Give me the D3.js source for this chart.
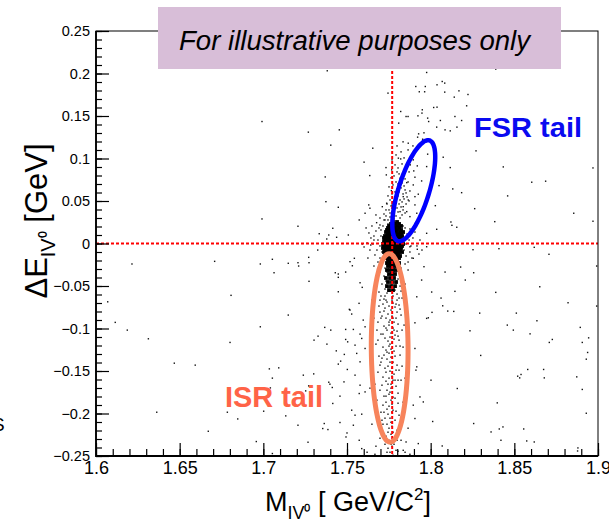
<!DOCTYPE html>
<html>
<head>
<meta charset="utf-8">
<script src="https://cdn.jsdelivr.net/npm/d3@7"></script>
<style>
  body { margin: 0; background: #fff; }
  svg { display: block; }
</style>
</head>
<body>
<svg id="chart" width="609" height="522"></svg>
<script>
// ---- axis ticks ----
const xTicks = [1.6, 1.65, 1.7, 1.75, 1.8, 1.85, 1.9];
const xTickLabels = ["1.6", "1.65", "1.7", "1.75", "1.8", "1.85", "1.9"];
const yTicks = [0.25, 0.2, 0.15, 0.1, 0.05, 0, -0.05, -0.1, -0.15, -0.2, -0.25];
const yTickLabels = ["0.25", "0.2", "0.15", "0.1", "0.05", "0", "\u22120.05", "\u22120.1", "\u22120.15", "\u22120.2", "\u22120.25"];

// reference lines (tau mass, zero energy difference)
const tauMass = 1.777;
const deltaEZero = 0;

// tails drawn as ellipses: centre, end of long axis, short/long ratio
const fsrEllipse = { center: [1.7899, 0.0621], tip: [1.7993, 0.1213], ratio: 0.29 };
const isrEllipse = { center: [1.7755, -0.1229], tip: [1.7752, -0.0120], ratio: 0.195 };

// ---- events [M, dE] ----
const leftEvents = [
  [1.7382,0.2032],[1.6992,0.1435],[1.7269,0.1310],[1.7454,0.1337],[1.7403,0.1157],[1.7370,0.0783],[1.7374,0.0492],[1.7448,0.0426],
  [1.6992,0.0289],[1.7207,0.0203],[1.7415,0.0179],[1.7334,0.0115],[1.7391,0.0100],[1.7438,0.0073],[1.7379,0.0053],
  [1.6215,-0.0241],[1.6709,-0.0210],[1.6982,-0.0241],[1.7054,-0.0186],[1.7064,-0.0344],[1.7149,-0.0233],[1.7207,-0.0226],[1.7211,-0.0265],
  [1.7271,-0.0163],[1.7273,-0.0226],[1.7325,-0.0077],[1.7430,-0.0344],[1.7448,-0.0359],[1.7448,-0.0398],[1.7492,-0.0336],[1.7273,-0.0445],
  [1.7448,-0.0568],[1.6807,-0.0610],[1.6070,-0.0686],[1.7514,-0.0775],[1.7149,-0.0842],[1.6115,-0.0928],[1.6187,-0.1019],[1.6982,-0.0980],
  [1.7367,-0.0987],[1.7403,-0.1019],[1.7492,-0.1011],[1.7327,-0.1090],[1.6313,-0.1121],[1.6801,-0.1164],[1.7303,-0.1137],[1.7492,-0.1129],
  [1.7504,-0.1157],[1.7380,-0.1184],[1.7436,-0.1263],[1.7484,-0.1305],[1.6468,-0.1408],[1.6593,-0.1431],[1.7462,-0.1384],[1.7448,-0.1419],
  [1.7036,-0.1475],[1.7092,-0.1463],[1.7502,-0.1482],[1.7301,-0.1534],[1.7239,-0.1549],[1.7054,-0.1584],[1.7391,-0.1632],[1.7398,-0.1655],
  [1.7482,-0.1628],[1.7042,-0.1699],[1.7271,-0.1675],[1.7253,-0.1734],[1.7412,-0.1694],[1.7458,-0.1796],[1.7415,-0.1882],[1.6363,-0.1985],
  [1.6785,-0.1985],[1.7002,-0.1973],[1.6847,-0.2064],[1.7134,-0.2028],[1.7364,-0.2118],[1.7458,-0.2106],[1.7207,-0.2138],[1.7386,-0.2189],
  [1.7355,-0.2177],[1.6671,-0.2209],[1.7500,-0.2229],[1.7494,-0.2276],[1.6958,-0.2330],[1.7267,-0.2338],[1.7054,-0.2471]
];

const rightEvents = [
  [1.8389,0.2052],[1.8069,0.1906],[1.8084,0.1887],[1.8038,0.1867],[1.8084,0.1781],[1.8141,0.1722],[1.8169,0.1796],[1.8223,0.1753],
  [1.8215,0.1620],[1.8038,0.1604],[1.8018,0.1600],[1.8145,0.1494],[1.8185,0.1447],[1.8157,0.1369],[1.8117,0.1325],[1.8058,0.1447],
  [1.8086,0.1337],[1.8036,0.1369],[1.8075,0.1015],[1.8271,0.1090],[1.8117,0.0893],[1.8434,0.0901],[1.8970,0.0889],[1.8050,0.0681],
  [1.8132,0.0642],[1.8185,0.0598],[1.8604,0.0721],[1.8687,0.0733],[1.8460,0.0560],[1.8263,0.0410],[1.8028,0.0445],[1.8855,0.0356],
  [1.8121,0.0253],[1.8127,0.0214],[1.8156,0.0191],[1.8383,0.0257],[1.8970,0.0262],[1.8036,0.0167],[1.8253,-0.0073],[1.8408,-0.0061],
  [1.8619,-0.0045],[1.8707,-0.0127],[1.8992,-0.0265],[1.8179,-0.0277],[1.8086,-0.0336],[1.8257,-0.0344],[1.8207,-0.0430],[1.8652,-0.0509],
  [1.8006,-0.0571],[1.8145,-0.0563],[1.8389,-0.0575],[1.8821,-0.0697],[1.8062,-0.0642],[1.8072,-0.0733],[1.8102,-0.0795],[1.8138,-0.0799],
  [1.8293,-0.0819],[1.8512,-0.0819],[1.8992,-0.0736],[1.8008,-0.0810],[1.8458,-0.0960],[1.8494,-0.1019],[1.8635,-0.0909],[1.8594,-0.1063],
  [1.8235,-0.1027],[1.8894,-0.0987],[1.8944,-0.1110],[1.8906,-0.1164],[1.8709,-0.1164],[1.8727,-0.1129],[1.8299,-0.1317],[1.8938,-0.1282],
  [1.8930,-0.1361],[1.8580,-0.1482],[1.8540,-0.1541],[1.8520,-0.1561],[1.8532,-0.1581],[1.8675,-0.1482],[1.8679,-0.1581],[1.8873,-0.1569],
  [1.8002,-0.1608],[1.8159,-0.1706],[1.8906,-0.1717],[1.8398,-0.1875],[1.8930,-0.1997],[1.8012,-0.2094],[1.8257,-0.2118],[1.8432,-0.2158],
  [1.8410,-0.2182],[1.8361,-0.2217],[1.8556,-0.2182],[1.8420,-0.2315],[1.8574,-0.2323],[1.8619,-0.2335],[1.8069,-0.2382],[1.8880,-0.2405],
  [1.8878,-0.2441]
];

const centreEvents = [
  [1.7976,0.2012],[1.7911,0.1847],[1.7968,0.1847],[1.7932,0.1785],[1.7964,0.1785],[1.7745,0.1769],[1.7950,0.1573],[1.7948,0.1534],
  [1.7821,0.1553],[1.7853,0.1494],[1.7865,0.1494],[1.7924,0.1502],[1.7982,0.1475],[1.7988,0.1435],[1.7809,0.1416],[1.7928,0.1290],
  [1.7960,0.1302],[1.7866,0.1180],[1.7922,0.1251],[1.7952,0.1227],[1.7654,0.1121],[1.7807,0.1004],[1.7821,0.0995],[1.7896,0.0984],
  [1.7878,0.0925],[1.7920,0.0913],[1.7982,0.1051],[1.7767,0.0866],[1.7733,0.0893],[1.7602,0.0957],[1.7636,0.0799],[1.7735,0.0807],
  [1.7817,0.0768],[1.7899,0.0854],[1.7906,0.0780],[1.7976,0.0905],[1.7857,0.0716],[1.7896,0.0689],[1.7946,0.0736],[1.7876,0.0618],
  [1.7853,0.0595],[1.7836,0.0551],[1.7866,0.0512],[1.7906,0.0551],[1.7926,0.0580],[1.7765,0.0622],[1.7630,0.0454],[1.7637,0.0415],
  [1.7737,0.0474],[1.7711,0.0433],[1.7906,0.0454],[1.7836,0.0433],[1.7857,0.0375],[1.7817,0.0375],[1.7917,0.0356],[1.7876,0.0316],
  [1.7608,0.0356],[1.7573,0.0277],[1.7677,0.0245],[1.7697,0.0218],[1.7976,0.0120],[1.7591,-0.0006],[1.7642,-0.0018],[1.7661,0.0041],
  [1.7508,0.0100],[1.7876,-0.0038],[1.7976,-0.0038],[1.7948,-0.0077],
  [1.7518,-0.0214],[1.7544,-0.0174],[1.7532,-0.0262],[1.7578,-0.0462],[1.7591,-0.0516],[1.7572,-0.0704],[1.7518,-0.0783],[1.7528,-0.0830],
  [1.7597,-0.0901],[1.7608,-0.0980],[1.7538,-0.1011],[1.7578,-0.1066],[1.7588,-0.1117],[1.7548,-0.1196],[1.7608,-0.1235],[1.7558,-0.1293],
  [1.7578,-0.1392],[1.7548,-0.1549],[1.7578,-0.1667],[1.7608,-0.1746],[1.7573,-0.1765],[1.7528,-0.1961],[1.7548,-0.2020],[1.7588,-0.2008],
  [1.7538,-0.2138],[1.7573,-0.2315],[1.7588,-0.2413],
  [1.7920,-0.0068],[1.7896,-0.0174],[1.7960,-0.0273],[1.7946,-0.0430],[1.7917,-0.0627],[1.7976,-0.0881],[1.7986,-0.0874],[1.7906,-0.0933],
  [1.7906,-0.1235],[1.7917,-0.1451],[1.7912,-0.1490],[1.7936,-0.1805],[1.7956,-0.1864],[1.7896,-0.1902],[1.7906,-0.2059],[1.7853,-0.2335],
  [1.7836,-0.2433],[1.7926,-0.2354],[1.7620,-0.2456],[1.7667,-0.2480],[1.7805,-0.2444],[1.7876,-0.2480]
];

const haloEvents = [
  [1.7614,0.0183],[1.7631,0.0124],[1.7649,0.0206],[1.7661,0.0088],[1.7673,0.0147],[1.7685,0.0041],[1.7691,0.0183],[1.7697,-0.0029],
  [1.7679,-0.0077],[1.7667,-0.0135],[1.7655,-0.0006],[1.7637,-0.0077],[1.7625,-0.0171],[1.7703,0.0088],[1.7709,-0.0100],[1.7697,-0.0171],
  [1.7685,-0.0218],[1.7661,-0.0265],[1.7643,0.0065],[1.7620,0.0006],[1.7602,-0.0041],[1.7703,0.0159],[1.7715,0.0206],[1.7727,0.0277],
  [1.7697,0.0300],[1.7673,0.0336],[1.7721,0.0347],[1.7733,0.0395],
  [1.7847,0.0183],[1.7859,0.0112],[1.7871,0.0041],[1.7882,-0.0029],[1.7841,-0.0077],[1.7853,-0.0147],[1.7865,-0.0218],[1.7876,-0.0100],
  [1.7894,0.0065],[1.7906,0.0135],[1.7918,-0.0029],[1.7841,0.0065],[1.7853,-0.0006],[1.7888,-0.0171],[1.7930,-0.0124],[1.7847,-0.0241],
  [1.7865,-0.0312],[1.7835,0.0206],[1.7876,0.0171],[1.7936,0.0041]
];

const plumeEvents = [
  [1.7745,0.0277],[1.7757,0.0312],[1.7769,0.0347],[1.7781,0.0289],[1.7793,0.0324],[1.7805,0.0371],[1.7817,0.0300],[1.7829,0.0336],
  [1.7751,0.0395],[1.7763,0.0442],[1.7775,0.0406],[1.7787,0.0453],[1.7799,0.0418],[1.7811,0.0465],[1.7823,0.0430],[1.7835,0.0395],
  [1.7847,0.0359],[1.7739,0.0465],[1.7757,0.0512],[1.7781,0.0501],[1.7793,0.0536],[1.7805,0.0560],[1.7817,0.0512],[1.7829,0.0489],
  [1.7841,0.0524],[1.7853,0.0465],[1.7745,0.0560],[1.7769,0.0583],[1.7787,0.0607],[1.7799,0.0642],[1.7811,0.0607],[1.7823,0.0654],
  [1.7835,0.0583],[1.7847,0.0630],[1.7859,0.0548],[1.7871,0.0501],[1.7751,0.0666],[1.7775,0.0689],[1.7793,0.0724],[1.7805,0.0701],
  [1.7817,0.0748],[1.7829,0.0713],[1.7841,0.0677],[1.7763,0.0772],[1.7781,0.0795],[1.7799,0.0842],[1.7811,0.0819],[1.7835,0.0795],
  [1.7847,0.0760],[1.7865,0.0724],[1.7787,0.0925],[1.7805,0.0889],[1.7829,0.0936],[1.7853,0.0866],[1.7871,0.0842],[1.7769,0.0984],
  [1.7793,0.1042],[1.7823,0.1078],[1.7841,0.1007],[1.7882,0.1031],[1.7799,0.1148],[1.7835,0.1196],[1.7865,0.1101],[1.7894,0.1148],
  [1.7769,0.0453],[1.7757,0.0359],[1.7733,0.0324],[1.7721,0.0277],[1.7745,0.0230]
];

const isrEvents = [
  [1.7715,-0.0218],[1.7727,-0.0289],[1.7739,-0.0336],[1.7751,-0.0253],[1.7763,-0.0289],[1.7775,-0.0218],[1.7787,-0.0312],[1.7799,-0.0265],
  [1.7811,-0.0347],[1.7823,-0.0289],[1.7721,-0.0383],[1.7733,-0.0442],[1.7745,-0.0371],[1.7757,-0.0418],[1.7769,-0.0477],[1.7781,-0.0395],
  [1.7793,-0.0465],[1.7805,-0.0418],[1.7817,-0.0501],[1.7709,-0.0477],[1.7727,-0.0536],[1.7739,-0.0583],[1.7751,-0.0512],[1.7763,-0.0560],
  [1.7775,-0.0618],[1.7787,-0.0548],[1.7799,-0.0595],[1.7811,-0.0642],[1.7823,-0.0560],[1.7703,-0.0618],[1.7721,-0.0654],[1.7733,-0.0666],
  [1.7697,-0.0336],[1.7685,-0.0430],[1.7673,-0.0524],[1.7835,-0.0406],[1.7847,-0.0477],[1.7691,-0.0571],[1.7841,-0.0618],
  [1.7715,-0.0713],[1.7727,-0.0760],[1.7739,-0.0689],[1.7751,-0.0736],[1.7763,-0.0783],[1.7775,-0.0701],[1.7787,-0.0748],[1.7799,-0.0807],
  [1.7811,-0.0724],[1.7697,-0.0807],[1.7709,-0.0854],[1.7733,-0.0878],[1.7745,-0.0830],[1.7757,-0.0901],[1.7769,-0.0854],[1.7781,-0.0925],
  [1.7793,-0.0878],[1.7805,-0.0948],[1.7823,-0.0842],[1.7721,-0.0972],[1.7739,-0.1019],[1.7751,-0.0960],[1.7763,-0.1054],[1.7775,-0.0995],
  [1.7787,-0.1078],[1.7799,-0.1031],[1.7685,-0.0925],[1.7703,-0.1066],[1.7727,-0.1113],[1.7745,-0.1148],[1.7757,-0.1101],[1.7769,-0.1172],
  [1.7781,-0.1125],[1.7793,-0.1207],[1.7811,-0.1137],[1.7829,-0.1019],[1.7673,-0.1184],[1.7715,-0.1219],[1.7733,-0.1254],[1.7751,-0.1207],
  [1.7763,-0.1243],[1.7835,-0.1219],[1.7691,-0.0736],[1.7679,-0.1019],
  [1.7721,-0.1313],[1.7739,-0.1360],[1.7751,-0.1290],[1.7763,-0.1337],[1.7775,-0.1396],[1.7787,-0.1325],[1.7799,-0.1431],[1.7703,-0.1396],
  [1.7727,-0.1467],[1.7745,-0.1443],[1.7757,-0.1502],[1.7769,-0.1467],[1.7781,-0.1537],[1.7811,-0.1490],[1.7715,-0.1572],[1.7733,-0.1620],
  [1.7751,-0.1584],[1.7763,-0.1655],[1.7775,-0.1608],[1.7793,-0.1679],[1.7685,-0.1514],[1.7739,-0.1726],[1.7751,-0.1773],[1.7763,-0.1702],
  [1.7775,-0.1808],[1.7697,-0.1726],[1.7721,-0.1796],[1.7805,-0.1761],[1.7823,-0.1608],[1.7667,-0.1655],
  [1.7733,-0.1867],[1.7751,-0.1914],[1.7763,-0.1843],[1.7775,-0.1961],[1.7745,-0.2008],[1.7757,-0.2055],[1.7769,-0.1985],[1.7787,-0.2079],
  [1.7721,-0.1985],[1.7739,-0.2126],[1.7751,-0.2173],[1.7763,-0.2103],[1.7775,-0.2220],[1.7733,-0.2267],[1.7751,-0.2315],[1.7763,-0.2244],
  [1.7781,-0.2362],[1.7745,-0.2409],[1.7757,-0.2456],[1.7769,-0.2385],[1.7709,-0.2079],[1.7799,-0.2197],[1.7697,-0.2291],[1.7793,-0.2433],
  [1.7727,-0.2362],[1.7811,-0.2020],[1.7715,-0.1902],
  [1.7649,-0.0666],[1.7661,-0.0878],[1.7643,-0.1137],[1.7655,-0.1396],[1.7637,-0.1702],[1.7661,-0.1902],[1.7649,-0.2126],[1.7673,-0.2385],
  [1.7853,-0.0783],[1.7841,-0.0960],[1.7859,-0.1337],[1.7847,-0.1584],[1.7835,-0.1867],[1.7865,-0.2173],[1.7823,-0.2315],[1.7847,-0.2456],
  [1.7691,-0.1325],[1.7679,-0.1843],[1.7703,-0.1985],[1.7817,-0.1313],[1.7829,-0.1443],[1.7805,-0.1879],
  [1.7703,-0.0878],[1.7721,-0.0795],[1.7769,-0.0666],[1.7793,-0.0713],[1.7817,-0.0772],[1.7715,-0.1066],[1.7733,-0.0995],[1.7781,-0.1019],
  [1.7805,-0.1090],[1.7757,-0.1184],[1.7739,-0.1278],[1.7781,-0.1266],[1.7709,-0.1349],[1.7757,-0.1396],[1.7793,-0.1490],[1.7733,-0.1514],
  [1.7769,-0.1561],[1.7745,-0.1655],[1.7787,-0.1608],[1.7709,-0.1667],[1.7757,-0.1749],[1.7733,-0.1796],[1.7787,-0.1820],[1.7769,-0.1890],
  [1.7739,-0.1949],[1.7793,-0.1973],[1.7727,-0.2055],[1.7769,-0.2150],[1.7745,-0.2220],[1.7781,-0.2291],[1.7763,-0.2362],[1.7739,-0.2456],
  [1.7775,-0.2491],[1.7751,-0.0925],[1.7775,-0.0878],[1.7727,-0.0618],[1.7799,-0.0666],[1.7697,-0.0666],[1.7829,-0.0642],[1.7685,-0.1137],
  [1.7817,-0.1207],[1.7697,-0.1431],[1.7805,-0.1608],[1.7715,-0.2126],[1.7799,-0.2315]
];

// saturated core: one row per dE, masses seen along that row
const coreRows = [
  [0.0253, [1.7775, 1.7799]],
  [0.0230, [1.7763, 1.7787, 1.7811]],
  [0.0206, [1.7751, 1.7775, 1.7799, 1.7823]],
  [0.0183, [1.7745, 1.7763, 1.7787, 1.7811]],
  [0.0159, [1.7739, 1.7757, 1.7781, 1.7799, 1.7823]],
  [0.0135, [1.7733, 1.7751, 1.7769, 1.7793, 1.7817, 1.7835]],
  [0.0112, [1.7745, 1.7763, 1.7781, 1.7805, 1.7823]],
  [0.0088, [1.7727, 1.7739, 1.7757, 1.7775, 1.7793, 1.7811, 1.7829]],
  [0.0065, [1.7721, 1.7745, 1.7763, 1.7781, 1.7799, 1.7817]],
  [0.0041, [1.7727, 1.7739, 1.7757, 1.7775, 1.7793, 1.7811, 1.7829]],
  [0.0018, [1.7721, 1.7733, 1.7751, 1.7769, 1.7787, 1.7805, 1.7823]],
  [-0.0006, [1.7715, 1.7733, 1.7745, 1.7763, 1.7781, 1.7799, 1.7817, 1.7835]],
  [-0.0029, [1.7721, 1.7739, 1.7757, 1.7775, 1.7793, 1.7811, 1.7829]],
  [-0.0053, [1.7715, 1.7733, 1.7751, 1.7769, 1.7787, 1.7805, 1.7823]],
  [-0.0077, [1.7727, 1.7745, 1.7763, 1.7781, 1.7799, 1.7817]],
  [-0.0100, [1.7721, 1.7739, 1.7757, 1.7775, 1.7793, 1.7811, 1.7829]],
  [-0.0124, [1.7733, 1.7751, 1.7769, 1.7787, 1.7805]],
  [-0.0147, [1.7727, 1.7745, 1.7763, 1.7781, 1.7799, 1.7817]],
  [-0.0171, [1.7739, 1.7757, 1.7775, 1.7793, 1.7811]],
  [-0.0194, [1.7745, 1.7763, 1.7781, 1.7799]],
  [-0.0230, [1.7739, 1.7757, 1.7775, 1.7793, 1.7811]],
  [-0.0265, [1.7745, 1.7763, 1.7781, 1.7799]],
  [-0.0312, [1.7739, 1.7757, 1.7775, 1.7793]],
  [-0.0359, [1.7751, 1.7769, 1.7787]],
  [-0.0406, [1.7733, 1.7757, 1.7781]],
  [-0.0453, [1.7745, 1.7769, 1.7793]],
  [-0.0501, [1.7739, 1.7763, 1.7787]],
  [-0.0548, [1.7751, 1.7775]]
];

// ---- layout ----
const margin = { top: 31, right: 11, bottom: 66, left: 96 };
const width = 609 - margin.left - margin.right;
const height = 522 - margin.top - margin.bottom;
const font = "'Liberation Sans', Arial, sans-serif";

const svg = d3.select("#chart");
const plot = svg.append("g")
  .attr("transform", `translate(${ margin.left }, ${ margin.top })`);

const x = d3.scaleLinear().domain([1.6, 1.9]).range([0, width]);
const y = d3.scaleLinear().domain([-0.25, 0.25]).range([height, 0]);

// scattered events, one dot each
const events = [].concat(leftEvents, rightEvents, centreEvents, haloEvents, plumeEvents, isrEvents);
plot.append("g")
  .selectAll("rect")
  .data(events)
  .join("rect")
  .attr("x", d => x(d[0]) - 0.7)
  .attr("y", d => y(d[1]) - 0.7)
  .attr("width", 1.4)
  .attr("height", 1.4)
  .attr("fill", "#111");

// saturated core drawn with larger dots
const coreEvents = coreRows.flatMap(([dE, masses]) => masses.map(m => [m, dE]));
plot.append("g")
  .selectAll("rect")
  .data(coreEvents)
  .join("rect")
  .attr("x", d => x(d[0]) - 1.9)
  .attr("y", d => y(d[1]) - 1.9)
  .attr("width", 3.8)
  .attr("height", 3.8)
  .attr("fill", "#000");

// red dotted reference lines
plot.append("line")
  .attr("x1", x(x.domain()[0])).attr("x2", x(x.domain()[1]))
  .attr("y1", y(deltaEZero)).attr("y2", y(deltaEZero))
  .attr("stroke", "#ff0000").attr("stroke-width", 2).attr("stroke-dasharray", "3 2");
plot.append("line")
  .attr("x1", x(tauMass)).attr("x2", x(tauMass))
  .attr("y1", y(y.domain()[1])).attr("y2", y(y.domain()[0]))
  .attr("stroke", "#ff0000").attr("stroke-width", 2).attr("stroke-dasharray", "3 2");

// ellipse through the scales: long axis from centre to tip
function ellipsePath(e)
{
  const cx = x(e.center[0]), cy = y(e.center[1]);
  const tx = x(e.tip[0]), ty = y(e.tip[1]);
  const a = Math.hypot(tx - cx, ty - cy);
  const b = a * e.ratio;
  const ux = (tx - cx) / a, uy = (ty - cy) / a;
  const pts = d3.range(0, 360, 4).map(deg =>
  {
    const t = deg * Math.PI / 180;
    return [cx + a * Math.cos(t) * ux - b * Math.sin(t) * uy,
            cy + a * Math.cos(t) * uy + b * Math.sin(t) * ux];
  });
  return d3.line().curve(d3.curveCardinalClosed)(pts);
}

plot.append("path")
  .attr("d", ellipsePath(isrEllipse))
  .attr("fill", "none")
  .attr("stroke", "#f7845c")
  .attr("stroke-width", 5);

plot.append("path")
  .attr("d", ellipsePath(fsrEllipse))
  .attr("fill", "none")
  .attr("stroke", "#0000ff")
  .attr("stroke-width", 4.5);

// tail labels
plot.append("text")
  .attr("x", x(1.8259)).attr("y", y(0.1254))
  .attr("font-family", font).attr("font-weight", "bold").attr("font-size", 28)
  .attr("fill", "#0a0af0")
  .attr("textLength", 108).attr("lengthAdjust", "spacingAndGlyphs")
  .text("FSR tail");

plot.append("text")
  .attr("x", x(1.6771)).attr("y", y(-0.1926))
  .attr("font-family", font).attr("font-weight", "bold").attr("font-size", 29)
  .attr("fill", "#ff6347")
  .attr("textLength", 98).attr("lengthAdjust", "spacingAndGlyphs")
  .text("ISR tail");

// ---- axes: ticks point inwards ----
const xMinor = d3.range(160, 191).map(i => i / 100);
const yMinor = d3.range(-25, 26).map(i => i / 100);

plot.append("g")
  .attr("transform", `translate(0, ${ height })`)
  .call(d3.axisBottom(x).tickValues(xMinor).tickSize(-7).tickSizeOuter(0).tickFormat(""))
  .call(g => g.select(".domain").remove());

plot.append("g")
  .attr("transform", `translate(0, ${ height })`)
  .call(d3.axisBottom(x).tickValues(xTicks).tickSize(-13).tickSizeOuter(0).tickPadding(5)
    .tickFormat(d => xTickLabels[xTicks.indexOf(d)]))
  .call(g => g.select(".domain").remove())
  .call(g => g.selectAll("text").attr("font-family", font).attr("font-size", 18).attr("fill", "#000"));

plot.append("g")
  .call(d3.axisLeft(y).tickValues(yMinor).tickSize(-6).tickSizeOuter(0).tickFormat(""))
  .call(g => g.select(".domain").remove());

plot.append("g")
  .call(d3.axisLeft(y).tickValues(yTicks).tickSize(-13).tickSizeOuter(0).tickPadding(6)
    .tickFormat(d => yTickLabels[yTicks.indexOf(d)]))
  .call(g => g.select(".domain").remove())
  .call(g => g.selectAll("text").attr("font-family", font).attr("font-size", 14.5).attr("fill", "#000"));

plot.selectAll(".tick line").attr("stroke", "#000").attr("stroke-width", 1.2);

// frame
plot.append("rect")
  .attr("width", width).attr("height", height)
  .attr("fill", "none").attr("stroke", "#000").attr("stroke-width", 1);
plot.append("path")
  .attr("d", `M0,0V${ height }H${ width }`)
  .attr("fill", "none").attr("stroke", "#000").attr("stroke-width", 1.8);

// axis titles
const xTitle = svg.append("text")
  .attr("x", 348).attr("y", 511)
  .attr("text-anchor", "middle")
  .attr("font-family", font).attr("font-size", 27);
xTitle.append("tspan").text("M");
xTitle.append("tspan").attr("font-size", 18).attr("dy", 8).text("IV\u2070");
xTitle.append("tspan").attr("dy", -8).text(" [ GeV/C");
xTitle.append("tspan").attr("font-size", 17).attr("dy", -11).text("2");
xTitle.append("tspan").attr("dy", 11).text("]");

const yTitle = svg.append("text")
  .attr("transform", "translate(47, 221) rotate(-90)")
  .attr("text-anchor", "middle")
  .attr("font-family", font).attr("font-size", 31);
yTitle.append("tspan").text("\u0394E");
yTitle.append("tspan").attr("font-size", 20).attr("dy", 8).text("IV\u2070");
yTitle.append("tspan").attr("dy", -8).text(" [GeV]");

// clipped glyph at the left edge of the page, as in the original
svg.append("text")
  .attr("x", -8).attr("y", 431)
  .attr("font-family", font).attr("font-size", 19)
  .text("S");

// "for illustrative purposes only" pave
svg.append("rect")
  .attr("x", 158).attr("y", 7).attr("width", 403).attr("height", 62)
  .attr("fill", "#d8bed8");
svg.append("text")
  .attr("x", 179).attr("y", 50)
  .attr("font-family", font).attr("font-style", "italic").attr("font-size", 27)
  .attr("textLength", 351).attr("lengthAdjust", "spacingAndGlyphs")
  .attr("fill", "#000")
  .text("For illustrative purposes only");
</script>
</body>
</html>
